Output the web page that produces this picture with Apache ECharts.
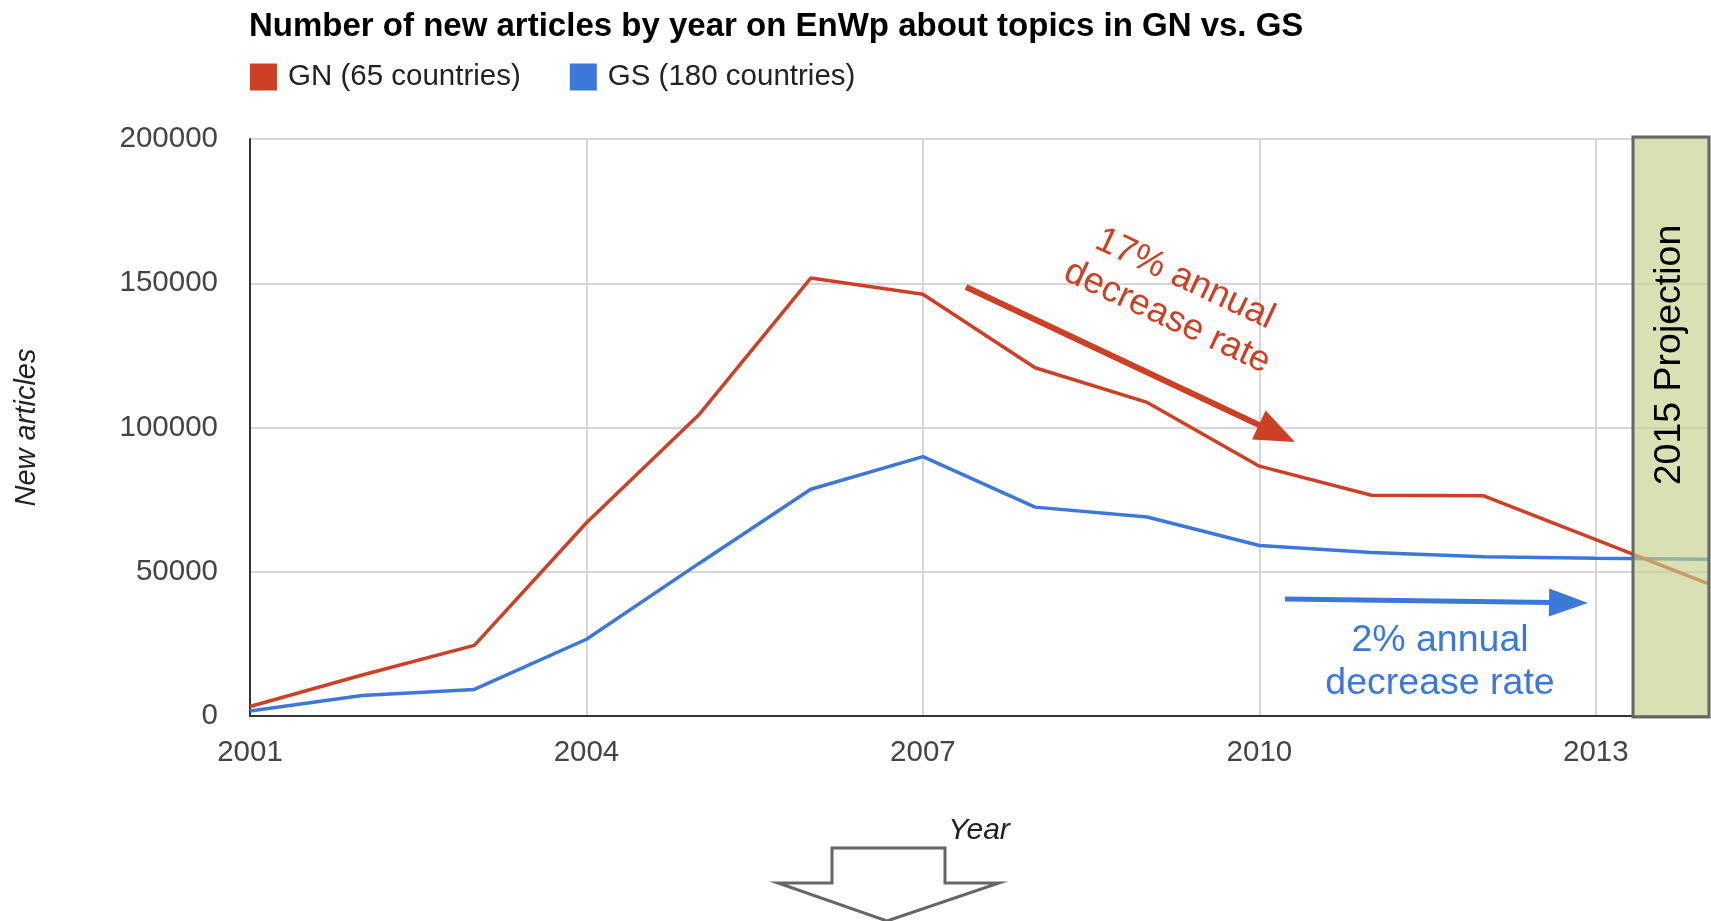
<!DOCTYPE html>
<html>
<head>
<meta charset="utf-8">
<script src="https://cdn.jsdelivr.net/npm/echarts@6/dist/echarts.min.js"></script>
<style>
  html, body { margin: 0; padding: 0; background: #ffffff; }
  #chart { width: 1711px; height: 921px; }
</style>
</head>
<body>
<div id="chart"></div>
<script>
// ---- data ----
const titleText = 'Number of new articles by year on EnWp about topics in GN vs. GS';
const seriesNames = ['GN (65 countries)', 'GS (180 countries)'];
const years = [2001, 2002, 2003, 2004, 2005, 2006, 2007, 2008, 2009, 2010, 2011, 2012, 2013, 2014];
const gnValues = [3300, 14200, 24500, 67000, 104300, 151800, 146200, 120700, 108700, 86600, 76500, 76300, 61100, 45900];
const gsValues = [1700, 7100, 9200, 26600, 52800, 78600, 89900, 72400, 69000, 59100, 56700, 55200, 54700, 54300];
const yTicks = [0, 50000, 100000, 150000, 200000];
const xTickYears = [2001, 2004, 2007, 2010, 2013];
const redNote = '17% annual\ndecrease rate';
const blueNote = '2% annual\ndecrease rate';
const projectionLabel = '2015 Projection';
const xAxisName = 'Year';
const yAxisName = 'New articles';

const RED = '#cc4125';
const BLUE = '#3c78d8';
const FONT = '"Liberation Sans", Arial, Helvetica, sans-serif';

const gnData = years.map((y, i) => [y, gnValues[i]]);
const gsData = years.map((y, i) => [y, gsValues[i]]);

const chart = echarts.init(document.getElementById('chart'), null, { renderer: 'canvas' });

const option = {
  animation: false,
  backgroundColor: '#ffffff',
  textStyle: { fontFamily: FONT },
  title: {
    text: titleText,
    left: 244,
    top: 5,
    textStyle: { fontFamily: FONT, fontSize: 33, fontWeight: 'bold', color: '#000000' }
  },
  legend: {
    left: 245,
    top: 57,
    icon: 'rect',
    itemWidth: 27,
    itemHeight: 27,
    itemGap: 49,
    textStyle: { fontFamily: FONT, fontSize: 29.5, color: '#222222', padding: [0, 0, 0, 6] },
    data: seriesNames
  },
  grid: { left: 250, right: 3, top: 139, bottom: 205, containLabel: false },
  xAxis: {
    type: 'value',
    min: years[0],
    max: years[years.length - 1],
    interval: 3,
    name: xAxisName,
    nameLocation: 'middle',
    nameGap: 100,
    nameTextStyle: { fontFamily: FONT, fontSize: 30, fontStyle: 'italic', color: '#222222' },
    axisLine: { show: true, lineStyle: { color: '#333333', width: 2 } },
    axisTick: { show: false },
    axisLabel: {
      margin: 22,
      fontFamily: FONT,
      fontSize: 29.5,
      color: '#444444',
      showMaxLabel: false,
      formatter: v => (xTickYears.indexOf(v) >= 0 ? String(v) : '')
    },
    splitLine: { show: true, lineStyle: { color: '#d6d6d6', width: 2 } }
  },
  yAxis: {
    type: 'value',
    min: yTicks[0],
    max: yTicks[yTicks.length - 1],
    interval: yTicks[1] - yTicks[0],
    name: yAxisName,
    nameLocation: 'middle',
    nameGap: 209,
    nameTextStyle: { fontFamily: FONT, fontSize: 29, fontStyle: 'italic', color: '#222222' },
    axisLine: { show: true, lineStyle: { color: '#333333', width: 2 } },
    axisTick: { show: false },
    axisLabel: {
      margin: 32,
      fontFamily: FONT,
      fontSize: 29.5,
      color: '#444444',
      formatter: v => String(v)
    },
    splitLine: { show: true, lineStyle: { color: '#d6d6d6', width: 2 } }
  },
  series: [
    {
      name: seriesNames[0],
      type: 'line',
      data: gnData,
      showSymbol: false,
      symbol: 'none',
      itemStyle: { color: RED },
      lineStyle: { color: RED, width: 3.5 },
      z: 3
    },
    {
      name: seriesNames[1],
      type: 'line',
      data: gsData,
      showSymbol: false,
      symbol: 'none',
      itemStyle: { color: BLUE },
      lineStyle: { color: BLUE, width: 3.5 },
      z: 2
    }
  ]
};

chart.setOption(option);

// ---- annotations (decorations) ----
function arrow(x1, y1, x2, y2, headLen, headHalf, width, color) {
  const dx = x2 - x1, dy = y2 - y1;
  const len = Math.sqrt(dx * dx + dy * dy);
  const ux = dx / len, uy = dy / len;
  const nx = -uy, ny = ux;
  const bx = x2 - ux * headLen, by = y2 - uy * headLen;
  return [
    {
      type: 'line',
      shape: { x1: x1, y1: y1, x2: bx + ux * 2, y2: by + uy * 2 },
      style: { stroke: color, lineWidth: width },
      z: 100
    },
    {
      type: 'polygon',
      shape: { points: [[x2, y2], [bx + nx * headHalf, by + ny * headHalf], [bx - nx * headHalf, by - ny * headHalf]] },
      style: { fill: color },
      z: 100
    }
  ];
}

const graphics = [];
// projection box
graphics.push({
  type: 'rect',
  shape: { x: 1633, y: 137, width: 76, height: 580 },
  style: { fill: 'rgba(195,207,140,0.65)', stroke: '#666666', lineWidth: 3 },
  z: 100
});
graphics.push({
  type: 'text',
  x: 1670,
  y: 355,
  rotation: Math.PI / 2,
  style: { text: projectionLabel, fontFamily: FONT, fontSize: 37.5, fill: '#000000', align: 'center', verticalAlign: 'middle' },
  z: 101
});
// red arrow + note
arrow(966, 287, 1295, 442, 40, 16, 6, RED).forEach(g => graphics.push(g));
graphics.push({
  type: 'text',
  x: 1176,
  y: 298,
  rotation: -25 * Math.PI / 180,
  style: { text: redNote, fontFamily: FONT, fontSize: 36.5, lineHeight: 42, fill: RED, align: 'center', verticalAlign: 'middle' },
  z: 101
});
// blue arrow + note
arrow(1285, 599, 1588, 603, 39, 14, 5, BLUE).forEach(g => graphics.push(g));
graphics.push({
  type: 'text',
  x: 1440,
  y: 662,
  style: { text: blueNote, fontFamily: FONT, fontSize: 37.5, lineHeight: 43, fill: BLUE, align: 'center', verticalAlign: 'middle' },
  z: 101
});
// block down arrow
graphics.push({
  type: 'polygon',
  shape: { points: [[832, 848], [945, 848], [945, 883], [999, 883], [887, 921], [778, 883], [832, 883]] },
  style: { fill: '#ffffff', stroke: '#666666', lineWidth: 3, lineJoin: 'miter' },
  z: 100
});

chart.setOption({ graphic: graphics });
</script>
</body>
</html>
